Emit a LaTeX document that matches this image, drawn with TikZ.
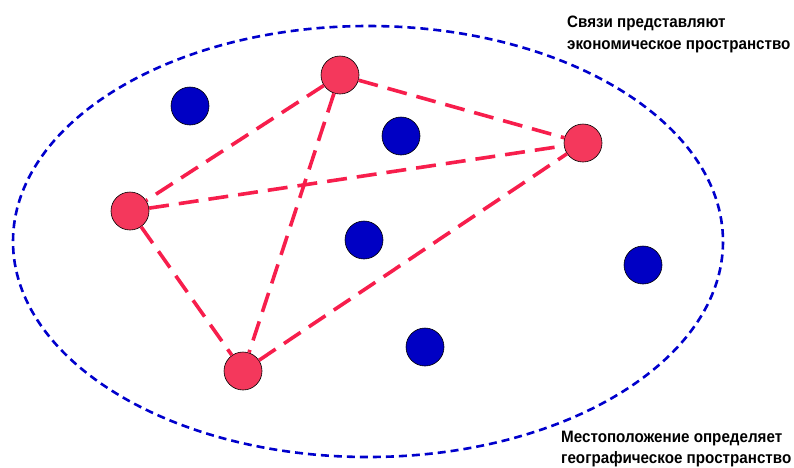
\documentclass[tikz,border=0pt]{standalone}
\usepackage{fontspec}
\setmainfont{Liberation Sans}
\newfontfamily\capfont[FakeStretch=0.92]{Liberation Sans}
\definecolor{redfill}{RGB}{244,56,92}
\definecolor{redline}{RGB}{247,30,76}
\definecolor{bluefill}{RGB}{0,0,196}
\definecolor{blueline}{RGB}{0,0,204}
\begin{document}
\begin{tikzpicture}[x=1pt,y=-1pt,
  rednode/.style={circle,fill=redfill,draw=black,line width=0.6pt,minimum size=38pt,inner sep=0pt},
  bluenode/.style={circle,fill=bluefill,draw=black,line width=0.6pt,minimum size=38pt,inner sep=0pt},
  link/.style={draw=redline,line width=3.6pt,dash pattern=on 20pt off 10pt},
  region/.style={draw=blueline,line width=2.6pt,dash pattern=on 8pt off 5pt},
  caption/.style={anchor=base west,inner sep=0pt,font=\capfont\fontsize{16.5}{18}\selectfont\bfseries,align=left}]
\useasboundingbox (0,0) rectangle (794,467);
\draw[region] (368,241.5) ellipse [x radius=355, y radius=215.5];
\node[rednode] (t) at (340,75) {};
\node[rednode] (r) at (583,143) {};
\node[rednode] (l) at (130,211) {};
\node[rednode] (b) at (243,371) {};
\node[bluenode] (b1) at (190,106) {};
\node[bluenode] (b2) at (401,136) {};
\node[bluenode] (b3) at (364,240) {};
\node[bluenode] (b4) at (643,265) {};
\node[bluenode] (b5) at (425,347) {};
\draw[link] (t) -- (r);
\draw[link] (t) -- (l);
\draw[link] (t) -- (b);
\draw[link] (l) -- (r);
\draw[link] (l) -- (b);
\draw[link] (b) -- (r);
\node[caption] (c1) at (567,27) {Связи представляют};
\node[caption] (c2) at (567,49) {экономическое пространство};
\node[caption] (c3) at (561,442) {Местоположение определяет};
\node[caption] (c4) at (561,463) {географическое пространство};
\end{tikzpicture}
\end{document}
